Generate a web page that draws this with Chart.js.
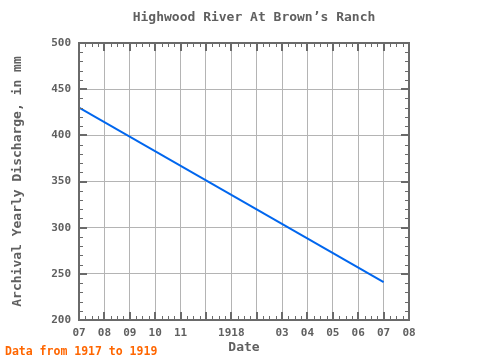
<!DOCTYPE html>
<html>
<head>
<meta charset="utf-8">
<script src="https://cdn.jsdelivr.net/npm/chart.js@4.4.0/dist/chart.umd.min.js"></script>
<style>
html, body { margin: 0; padding: 0; background: #fff; }
</style>
</head>
<body>
<canvas id="chart" width="480" height="360"></canvas>
<script>
// month positions: 0 = Jul 1917 ... 13 = Aug 1918
const monthLabels = ['07', '08', '09', '10', '11', '', '1918', '', '03', '04', '05', '06', '07', '08'];
const pointMonths = [0, 12];
const discharge = [430, 241];
const yMin = 200;
const yMax = 500;

const textColor = '#606060';
const frameColor = '#6a6a6a';
const mono = '"DejaVu Sans Mono", monospace';

// border plus inward tick marks, like the original plot frame
const framePlugin = {
    id: 'frame',
    afterDatasetsDraw(chart) {
        const {ctx, chartArea: a, scales: {x, y}} = chart;
        ctx.save();
        ctx.strokeStyle = frameColor;

        // minor ticks
        ctx.lineWidth = 1;
        ctx.beginPath();
        for (let m = 0; m < 13; m++) {
            for (let q = 1; q < 4; q++) {
                const px = Math.round(x.getPixelForValue(m + q / 4)) + 0.5;
                ctx.moveTo(px, a.top); ctx.lineTo(px, a.top + 4);
                ctx.moveTo(px, a.bottom); ctx.lineTo(px, a.bottom - 4);
            }
        }
        for (let v = yMin + 10; v < yMax; v += 10) {
            if (v % 50 === 0) continue;
            const py = Math.round(y.getPixelForValue(v)) + 0.5;
            ctx.moveTo(a.left, py); ctx.lineTo(a.left + 4, py);
            ctx.moveTo(a.right, py); ctx.lineTo(a.right - 4, py);
        }
        ctx.stroke();

        // major ticks
        ctx.lineWidth = 2;
        ctx.beginPath();
        for (let m = 1; m < 13; m++) {
            const px = Math.round(x.getPixelForValue(m));
            ctx.moveTo(px, a.top); ctx.lineTo(px, a.top + 8);
            ctx.moveTo(px, a.bottom); ctx.lineTo(px, a.bottom - 8);
        }
        for (let v = yMin + 50; v < yMax; v += 50) {
            const py = Math.round(y.getPixelForValue(v));
            ctx.moveTo(a.left, py); ctx.lineTo(a.left + 8, py);
            ctx.moveTo(a.right, py); ctx.lineTo(a.right - 8, py);
        }
        ctx.stroke();

        ctx.lineWidth = 2;
        ctx.strokeRect(a.left, a.top, a.right - a.left, a.bottom - a.top);
        ctx.restore();
    },
    afterDraw(chart) {
        const ctx = chart.ctx;
        ctx.save();
        ctx.textBaseline = 'middle';

        ctx.fillStyle = textColor;
        ctx.font = 'bold 13px ' + mono;
        ctx.textAlign = 'center';
        ctx.fillText('Highwood River At Brown\u2019s Ranch', 254, 18);

        ctx.fillStyle = '#ff6600';
        ctx.font = 'bold 11.5px ' + mono;
        ctx.textAlign = 'left';
        ctx.fillText('Data from 1917 to 1919', 5, 352);
        ctx.restore();
    }
};

const ctx = document.getElementById('chart').getContext('2d');
new Chart(ctx, {
    type: 'line',
    data: {
        datasets: [{
            label: 'Discharge',
            data: pointMonths.map((m, i) => ({x: m, y: discharge[i]})),
            borderColor: '#0066ee',
            borderWidth: 2,
            pointRadius: 0,
            tension: 0
        }]
    },
    options: {
        responsive: false,
        animation: false,
        layout: { padding: { left: 0, right: 71, top: 43, bottom: 0 } },
        plugins: {
            legend: { display: false },
            tooltip: { enabled: false },
            title: { display: false }
        },
        scales: {
            x: {
                type: 'linear',
                min: 0,
                max: 13,
                afterFit(scale) { scale.height = 40; },
                grid: { color: '#b4b4b4', drawTicks: false },
                border: { display: false },
                ticks: {
                    stepSize: 1,
                    autoSkip: false,
                    maxRotation: 0,
                    padding: 7,
                    color: textColor,
                    font: { family: mono, size: 11, weight: 'bold' },
                    callback: (v) => monthLabels[v]
                },
                title: {
                    display: true,
                    text: 'Date',
                    color: textColor,
                    font: { family: mono, size: 13, weight: 'bold' },
                    padding: { top: 0, bottom: 5 }
                }
            },
            y: {
                min: yMin,
                max: yMax,
                afterFit(scale) { scale.width = 79; },
                grid: { color: '#b4b4b4', drawTicks: false },
                border: { display: false },
                ticks: {
                    stepSize: 50,
                    padding: 8,
                    color: textColor,
                    font: { family: mono, size: 11, weight: 'bold' }
                },
                title: {
                    display: true,
                    text: 'Archival Yearly Discharge, in mm',
                    color: textColor,
                    font: { family: mono, size: 13, weight: 'bold' },
                    padding: { top: 10, bottom: 0 }
                }
            }
        }
    },
    plugins: [framePlugin]
});
</script>
</body>
</html>
